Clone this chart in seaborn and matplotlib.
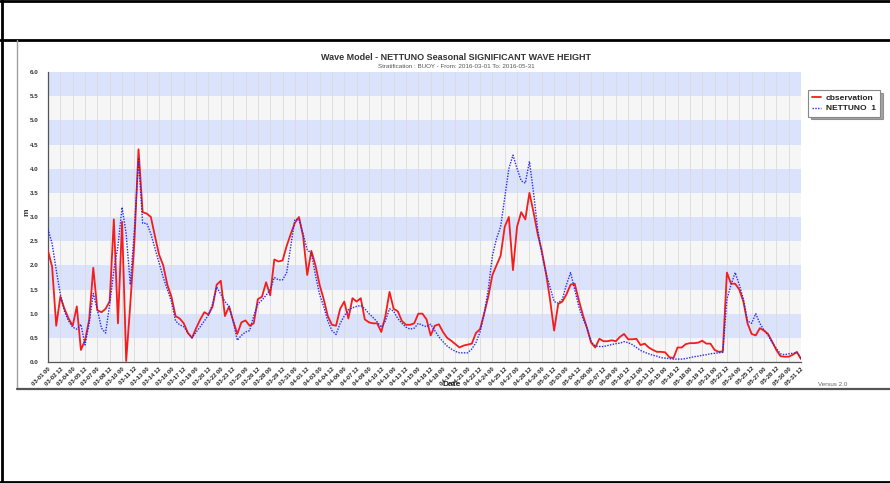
import pandas as pd
import numpy as np
import matplotlib
matplotlib.use("Agg")
import matplotlib.pyplot as plt
import seaborn as sns
from matplotlib.lines import Line2D
from matplotlib.ticker import MultipleLocator

# --- Data: significant wave height (m), 12-hourly, 2016-03-01 .. 2016-05-31 ---
start_time = "2016-03-01 00:00"
end_time = "2016-05-31 12:00"

observation = [
    2.30, 1.97, 0.75, 1.35, 1.10, 0.90, 0.75, 1.15, 0.25, 0.45,
    0.87, 1.95, 1.07, 1.03, 1.10, 1.26, 2.95, 0.80, 2.90, 0.02,
    1.20, 2.50, 4.40, 3.10, 3.07, 3.00, 2.60, 2.22, 2.00, 1.60,
    1.35, 0.95, 0.90, 0.80, 0.60, 0.50, 0.70, 0.88, 1.03, 0.98,
    1.15, 1.60, 1.68, 0.95, 1.15, 0.85, 0.58, 0.82, 0.86, 0.75,
    0.80, 1.30, 1.35, 1.65, 1.38, 2.12, 2.08, 2.10, 2.40, 2.65,
    2.88, 3.00, 2.60, 1.80, 2.30, 2.00, 1.60, 1.30, 0.95, 0.77,
    0.75, 1.10, 1.25, 0.90, 1.32, 1.25, 1.32, 0.88, 0.82, 0.80,
    0.80, 0.62, 0.95, 1.45, 1.10, 1.05, 0.85, 0.77, 0.77, 0.80,
    1.00, 1.00, 0.88, 0.55, 0.75, 0.78, 0.62, 0.50, 0.44, 0.37,
    0.30, 0.34, 0.36, 0.38, 0.60, 0.68, 1.00, 1.35, 1.80, 2.00,
    2.20, 2.80, 3.00, 1.90, 2.80, 3.10, 2.95, 3.50, 3.10, 2.65,
    2.30, 1.85, 1.30, 0.65, 1.20, 1.25, 1.40, 1.60, 1.62, 1.28,
    0.97, 0.70, 0.40, 0.30, 0.48, 0.43, 0.43, 0.45, 0.43, 0.52,
    0.58, 0.47, 0.47, 0.48, 0.35, 0.38, 0.30, 0.25, 0.21, 0.21,
    0.20, 0.10, 0.08, 0.30, 0.30, 0.37, 0.39, 0.39, 0.40, 0.44,
    0.38, 0.38, 0.25, 0.21, 0.22, 1.85, 1.62, 1.62, 1.50, 1.25,
    0.80, 0.58, 0.55, 0.70, 0.65, 0.58, 0.42, 0.25, 0.12, 0.11,
    0.11, 0.15, 0.21, 0.06,
]

nettuno = [
    2.75, 2.45, 1.90, 1.40, 1.05, 0.85, 0.72, 0.68, 0.78, 0.35,
    0.80, 1.42, 1.08, 0.70, 0.60, 1.20, 1.90, 2.40, 3.20, 2.65,
    1.60, 2.75, 4.20, 2.87, 2.87, 2.65, 2.35, 2.05, 1.75, 1.50,
    1.25, 0.85, 0.77, 0.73, 0.60, 0.50, 0.62, 0.73, 0.85, 0.97,
    1.20, 1.55, 1.40, 1.25, 1.15, 0.85, 0.45, 0.55, 0.62, 0.65,
    0.95, 1.20, 1.28, 1.38, 1.50, 1.75, 1.70, 1.70, 1.85, 2.40,
    2.95, 2.95, 2.65, 2.32, 2.25, 1.80, 1.40, 1.15, 0.85, 0.65,
    0.57, 0.80, 0.95, 1.08, 1.12, 1.15, 1.17, 1.10, 1.00, 0.92,
    0.83, 0.72, 0.85, 1.10, 1.05, 0.90, 0.80, 0.72, 0.68, 0.70,
    0.80, 0.76, 0.73, 0.78, 0.65, 0.52, 0.42, 0.33, 0.27, 0.22,
    0.19, 0.19, 0.19, 0.27, 0.40, 0.62, 1.00, 1.50, 2.20, 2.55,
    2.80, 3.40, 4.00, 4.28, 4.00, 3.75, 3.70, 4.15, 3.50, 2.75,
    2.25, 1.85, 1.55, 1.25, 1.22, 1.30, 1.60, 1.85, 1.50, 1.15,
    0.90, 0.70, 0.42, 0.33, 0.32, 0.32, 0.34, 0.36, 0.38, 0.39,
    0.42, 0.40, 0.36, 0.30, 0.24, 0.20, 0.17, 0.14, 0.12, 0.09,
    0.08, 0.07, 0.06, 0.06, 0.06, 0.07, 0.09, 0.11, 0.12, 0.14,
    0.15, 0.17, 0.18, 0.19, 0.20, 1.30, 1.60, 1.85, 1.60, 1.30,
    0.85, 0.80, 1.00, 0.80, 0.66, 0.55, 0.40, 0.28, 0.17, 0.15,
    0.17, 0.18, 0.19, 0.08,
]

times = pd.date_range(start_time, end_time, freq="12h")
df = pd.DataFrame({"time": times, "observation": observation, "nettuno": nettuno})

y_ticks = [0.0, 0.5, 1.0, 1.5, 2.0, 2.5, 3.0, 3.5, 4.0, 4.5, 5.0, 5.5, 6.0]
x_ticks = pd.date_range(start_time, end_time, freq="36h")

# --- Figure ---
sns.set_style("white")
plt.rcParams["font.family"] = ["Liberation Sans", "DejaVu Sans"]

W, H = 890, 483
fig = plt.figure(figsize=(W / 100, H / 100), dpi=100)
fig.patch.set_facecolor("white")

# page / table frame around the chart image
def fline(x0, y0, x1, y1, color="black", lw=2.0):
    fig.add_artist(Line2D([x0 / W, x1 / W], [1 - y0 / H, 1 - y1 / H],
                          color=color, lw=lw, transform=fig.transFigure))

fline(0, 1, W, 1)
fline(0, 40, W, 40)
fline(1.5, 0, 1.5, H)
fline(0, 482, W, 482)
fline(17, 40, 17, 389, color="#a0a0a0", lw=1.0)
fline(17, 389, W, 389, color="#555555", lw=1.6)

ax = fig.add_axes([48 / W, 1 - 362 / H, 753 / W, 290 / H])

# alternating horizontal bands
for k in range(len(y_ticks) - 1):
    band = "#dae3fb" if k % 2 == 1 else "#f6f6f6"
    ax.axhspan(y_ticks[k], y_ticks[k + 1], color=band, lw=0, zorder=0)

sns.lineplot(data=df, x="time", y="observation", ax=ax, color="#f41c1c",
             lw=1.3, label="cbservation", zorder=3)
sns.lineplot(data=df, x="time", y="nettuno", ax=ax, color="#2a2ae6",
             lw=1.0, linestyle=(0, (1, 1)), label="NETTUNO  1", zorder=4)

ax.set_xlim(times[0], times[-1])
ax.set_ylim(0, 6)
ax.set_yticks(y_ticks)
ax.set_yticklabels([f"{v:.1f}" for v in y_ticks])
ax.yaxis.set_minor_locator(MultipleLocator(0.1))
ax.set_xticks(x_ticks)
ax.set_xticklabels([t.strftime("%m-%d %H") for t in x_ticks], rotation=45,
                   ha="right", rotation_mode="anchor", fontsize=4.2,
                   fontweight="bold", color="#222222")
for lab in ax.get_yticklabels():
    lab.set_fontweight("bold")

ax.grid(axis="x", color="#dadada", lw=0.6)
ax.grid(axis="y", visible=False)
ax.set_axisbelow(True)

for side in ["top", "right"]:
    ax.spines[side].set_visible(False)
for side in ["left", "bottom"]:
    ax.spines[side].set_color("#555555")
    ax.spines[side].set_linewidth(0.9)

ax.tick_params(axis="y", which="major", direction="in", length=3, width=0.7,
               labelsize=4.5, labelcolor="#333333", color="#555555", pad=7)
ax.tick_params(axis="y", which="minor", direction="out", length=1.5,
               width=0.5, color="#777777")
ax.tick_params(axis="x", which="major", direction="in", length=4, width=0.7,
               color="#555555", pad=3)

ax.set_xlabel("")
ax.set_ylabel("")
fig.text(27 / W, 1 - 212 / H, "m", rotation=90, ha="center", va="center",
         fontsize=6, fontweight="bold", color="#333333")
fig.text(452 / W, 1 - 384 / H, "Date", ha="center", va="center",
         fontsize=6, fontweight="bold", color="#222222")
fig.text(833 / W, 1 - 384 / H, "Versus 2.0", ha="center", va="center",
         fontsize=4.5, color="#666666")

fig.text(456 / W, 1 - 57 / H,
         "Wave Model - NETTUNO Seasonal SIGNIFICANT WAVE HEIGHT",
         ha="center", va="center", fontsize=6.5, fontweight="bold",
         color="#333333")
fig.text(456 / W, 1 - 67 / H,
         "Stratification : BUOY - From: 2016-03-01 To: 2016-05-31",
         ha="center", va="center", fontsize=4.5, color="#555555")

leg = ax.legend(loc="upper left", bbox_to_anchor=(804 / W, 1 - 86 / H),
                bbox_transform=fig.transFigure, frameon=True, fancybox=False,
                shadow=True, handlelength=1.0, handletextpad=0.6,
                borderpad=0.5, labelspacing=0.3, prop={"size": 6, "weight": "bold"})
leg.get_frame().set_edgecolor("#888888")
leg.get_frame().set_linewidth(0.8)
for t in leg.get_texts():
    t.set_color("#222222")

fig.savefig("out.png", dpi=100)
